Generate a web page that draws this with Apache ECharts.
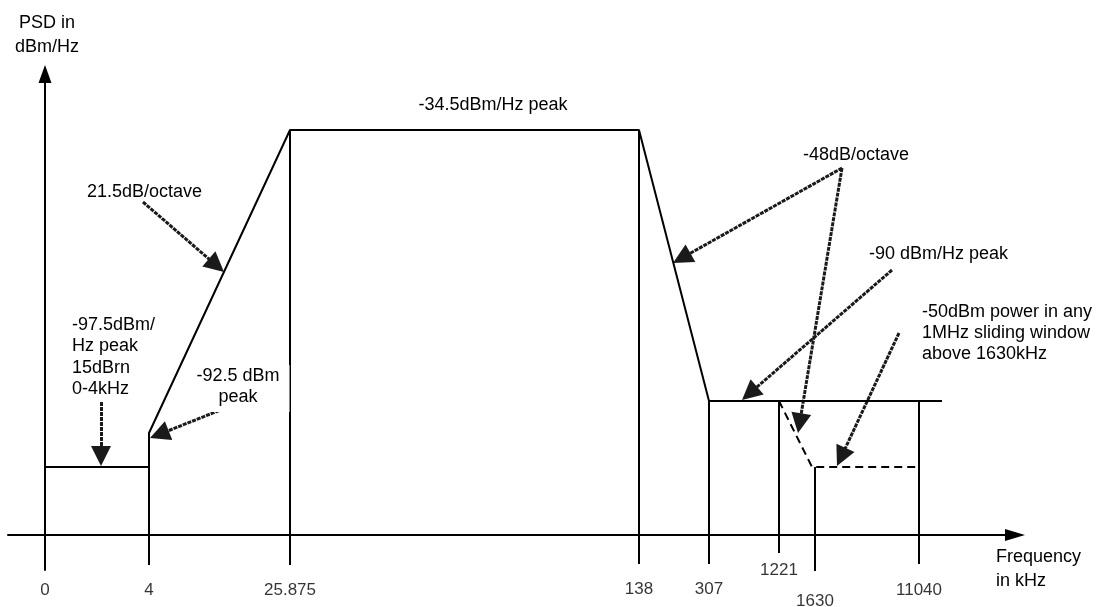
<!DOCTYPE html>
<html>
<head>
<meta charset="utf-8">
<script src="https://cdn.jsdelivr.net/npm/echarts@6/dist/echarts.min.js"></script>
<style>
  html, body { margin: 0; padding: 0; background: #fff; }
  #chart { width: 1101px; height: 607px; }
</style>
</head>
<body>
<div id="chart"></div>
<script>
// schematic PSD mask, axes are not to scale: positions are read off the drawing
var freqLabels = ['0', '4', '25.875', '138', '307', '1221', '1630', '11040'];
var freqPos = [0, 104, 245, 594, 664, 734, 770, 874];
var tickBottom = [-35, -30, -30, -29, -29, -18, -43, -29];
var tickLabelY = [-55, -55, -55, -54, -54, -35, -66, -55];

// -97.5, -92.5, -34.5, -90 dBm/Hz levels (schematic heights)
var psdLevels = [-97.5, -92.5, -34.5, -90];
var psdPos = [68, 102, 405, 134];
var maskEnd = 897;
var slidingBend = 767;

// annotation arrows, tail -> tip
var arrowFrom = [[98, 333], [56, 133], [188, 130], [797, 367], [797, 367], [847, 265], [854, 202]];
var arrowTo = [[179, 263], [56, 69], [105, 97], [628, 272], [753, 102], [697, 135], [792, 69]];
var headLen = 20;

var FONT = '18px "Liberation Sans", Arial, sans-serif';

var maskData = [
  [freqPos[0], psdPos[0]],
  [freqPos[1], psdPos[0]],
  [freqPos[1], psdPos[1]],
  [freqPos[2], psdPos[2]],
  [freqPos[3], psdPos[2]],
  [freqPos[4], psdPos[3]],
  [maskEnd, psdPos[3]]
];
var slidingData = [
  [freqPos[5], psdPos[3]],
  [slidingBend, psdPos[0]],
  [freqPos[7], psdPos[0]]
];
// top end of each vertical line (0 kHz is the y axis itself)
var vertTop = [null, psdPos[1], psdPos[2], psdPos[2], psdPos[3], psdPos[3], psdPos[0], psdPos[3]];
var vertData = [];
for (var i = 1; i < freqPos.length; i++) {
  vertData.push({ coords: [[freqPos[i], vertTop[i]], [freqPos[i], tickBottom[i]]] });
}
// the arrow symbol is centred on the line end, so pull the end back by half a head
// (1 axis unit is 1px here)
var arrowData = arrowFrom.map(function (p, i) {
  var q = arrowTo[i];
  var dx = q[0] - p[0], dy = q[1] - p[1];
  var len = Math.sqrt(dx * dx + dy * dy);
  var k = (len - headLen / 2) / len;
  return { coords: [p, [p[0] + dx * k, p[1] + dy * k]] };
});

var chart = echarts.init(document.getElementById('chart'));
chart.setOption({
  animation: false,
  backgroundColor: '#fff',
  grid: { left: 8, right: 86, top: 74, bottom: 37 },
  xAxis: {
    type: 'value', min: -37, max: 970,
    axisLine: {
      show: true, onZero: true,
      symbol: ['none', 'triangle'], symbolSize: [12, 20],
      lineStyle: { color: '#000', width: 2 }
    },
    axisTick: { show: false }, axisLabel: { show: false }, splitLine: { show: false }
  },
  yAxis: {
    type: 'value', min: -35, max: 461,
    axisLine: {
      show: true, onZero: true,
      symbol: ['none', 'triangle'], symbolSize: [13, 18],
      lineStyle: { color: '#000', width: 2 }
    },
    axisTick: { show: false }, axisLabel: { show: false }, splitLine: { show: false }
  },
  series: [
    {
      name: 'mask', type: 'line', data: maskData, symbol: 'none', clip: false,
      lineStyle: { color: '#000', width: 2 }
    },
    {
      name: 'sliding', type: 'line', data: slidingData, symbol: 'none', clip: false,
      lineStyle: { color: '#000', width: 2, type: [8, 5] }
    },
    {
      name: 'verticals', type: 'lines', coordinateSystem: 'cartesian2d',
      data: vertData, symbol: 'none',
      lineStyle: { color: '#000', width: 2, opacity: 1 }
    },
    {
      name: 'arrows', type: 'lines', coordinateSystem: 'cartesian2d',
      data: arrowData, symbol: ['none', 'triangle'], symbolSize: [14, headLen],
      lineStyle: { color: '#1a1a1a', width: 3, opacity: 1, type: [4, 1] },
      itemStyle: { color: '#000' }
    },
    {
      name: 'ticks', type: 'scatter', symbolSize: 0, clip: false,
      data: freqPos.map(function (x, i) { return [x, tickLabelY[i]]; }),
      label: {
        show: true, position: 'inside', color: '#000',
        fontFamily: '"Liberation Sans", Arial, sans-serif', fontSize: 17,
        formatter: function (p) { return freqLabels[p.dataIndex]; }
      }
    }
  ],
  graphic: [
    { type: 'text', x: 47, y: 11, style: { text: 'PSD in\ndBm/Hz', font: FONT, fill: '#000', align: 'center', verticalAlign: 'top', lineHeight: 24 } },
    { type: 'text', x: 87, y: 192, style: { text: '21.5dB/octave', font: FONT, fill: '#000', align: 'left', verticalAlign: 'middle' } },
    { type: 'text', x: 493, y: 105, style: { text: '-34.5dBm/Hz peak', font: FONT, fill: '#000', align: 'center', verticalAlign: 'middle' } },
    { type: 'text', x: 803, y: 155, style: { text: '-48dB/octave', font: FONT, fill: '#000', align: 'left', verticalAlign: 'middle' } },
    { type: 'text', x: 869, y: 254, style: { text: '-90 dBm/Hz peak', font: FONT, fill: '#000', align: 'left', verticalAlign: 'middle' } },
    { type: 'text', x: 922, y: 302, style: { text: '-50dBm power in any\n1MHz sliding window\nabove 1630kHz', font: FONT, fill: '#000', align: 'left', verticalAlign: 'top', lineHeight: 21 } },
    { type: 'text', x: 72, y: 314, style: { text: '-97.5dBm/\nHz peak\n15dBrn\n0-4kHz', font: FONT, fill: '#000', align: 'left', verticalAlign: 'top', lineHeight: 21.5 } },
    { type: 'text', x: 242, y: 365, z: 100, style: { text: '-92.5 dBm\npeak', font: FONT, fill: '#000', align: 'center', verticalAlign: 'top', lineHeight: 21, backgroundColor: '#fff', padding: [1, 10, 4, 2] } },
    { type: 'text', x: 996, y: 545, style: { text: 'Frequency\nin kHz', font: FONT, fill: '#000', align: 'left', verticalAlign: 'top', lineHeight: 24 } }
  ]
});
</script>
</body>
</html>
